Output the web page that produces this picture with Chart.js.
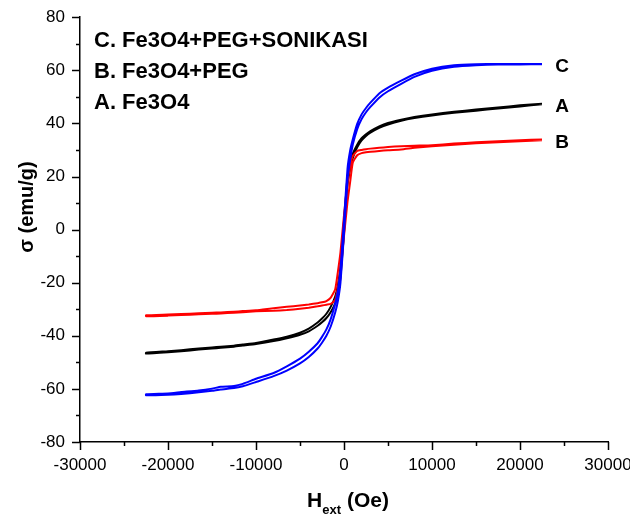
<!DOCTYPE html>
<html>
<head>
<meta charset="utf-8">
<script src="https://cdn.jsdelivr.net/npm/chart.js@4"></script>
<style>
  html, body { margin: 0; padding: 0; background: #fff; }
  #wrap { width: 630px; height: 519px; position: relative; }
</style>
</head>
<body>
<div id="wrap"><canvas id="loop"></canvas></div>
<script>
// Hysteresis loops (VSM) of the three samples

// applied field H_ext (Oe), ascending
const field = [-22500, -20000, -18500, -16500, -15000, -14000, -12500, -11500, -10000, -8000,
  -6500, -5000, -4000, -3000, -2500, -2000, -1500, -1000, -700, -400,
  0, 400, 700, 1000, 1500, 2000, 2500, 3000, 4000, 5000,
  6500, 8000, 10000, 12500, 15000, 17500, 20000, 22500];

// C. Fe3O4+PEG+SONIKASI (blue): descending branch / ascending branch
const cDown = [-62.0, -61.7, -61.2, -60.6, -59.9, -59.2, -58.9, -58.1, -56.2, -54.0,
  -51.5, -48.6, -46.0, -42.8, -40.4, -37.6, -33.6, -27.8, -23.0, -15.0,
  3.5, 23.0, 29.8, 34.0, 39.8, 43.4, 45.8, 47.8, 51.3, 53.5,
  56.1, 58.5, 60.6, 61.9, 62.3, 62.4, 62.4, 62.4];
const cUp = [-62.4, -62.2, -61.9, -61.3, -60.7, -60.2, -59.7, -59.0, -57.4, -55.2,
  -53.1, -50.4, -48.0, -44.8, -42.6, -40.0, -36.4, -31.2, -27.0, -20.0,
  -1.5, 19.0, 26.2, 32.0, 37.8, 41.6, 44.2, 46.2, 49.7, 52.1,
  54.9, 57.5, 59.8, 61.3, 61.9, 62.2, 62.2, 62.3];

// B. Fe3O4+PEG (red)
const bDown = [-32.3, -32.0, -31.8, -31.5, -31.3, -31.2, -30.9, -30.7, -30.4, -29.6,
  -29.1, -28.6, -28.2, -27.7, -27.4, -26.9, -25.6, -22.5, -16.0, -8.5,
  5.5, 17.5, 24.0, 27.7, 29.6, 30.0, 30.3, 30.5, 30.8, 31.1,
  31.4, 31.6, 31.8, 32.4, 32.9, 33.3, 33.7, 33.9];
const bUp = [-32.6, -32.4, -32.2, -31.9, -31.7, -31.6, -31.3, -31.1, -30.8, -30.6,
  -30.3, -29.8, -29.4, -28.9, -28.6, -28.3, -28.0, -26.5, -22.0, -15.5,
  -2.5, 10.5, 18.0, 25.3, 28.0, 28.8, 29.1, 29.3, 29.6, 29.9,
  30.2, 30.8, 31.4, 32.0, 32.5, 32.9, 33.3, 33.7];

// A. Fe3O4 (black)
const aDown = [-46.4, -45.8, -45.4, -44.8, -44.4, -44.1, -43.7, -43.3, -42.7, -41.4,
  -40.3, -38.8, -37.3, -35.0, -33.5, -31.7, -29.0, -25.2, -21.0, -14.0,
  3.0, 20.0, 25.2, 28.6, 32.0, 34.4, 35.9, 37.1, 38.9, 40.2,
  41.4, 42.4, 43.4, 44.4, 45.2, 46.0, 46.8, 47.4];
const aUp = [-46.7, -46.2, -45.8, -45.2, -44.8, -44.5, -44.1, -43.7, -43.1, -42.0,
  -40.9, -39.6, -38.3, -36.2, -34.9, -33.3, -31.0, -27.8, -24.0, -18.0,
  -1.0, 17.0, 22.8, 27.0, 31.0, 33.6, 35.3, 36.5, 38.3, 39.6,
  41.0, 42.0, 43.0, 44.0, 44.8, 45.6, 46.4, 47.2];

const xTickLabels = [-30000, -20000, -10000, 0, 10000, 20000, 30000];
const yTickLabels = [-80, -60, -40, -20, 0, 20, 40, 60, 80];
const legendLines = ["C. Fe3O4+PEG+SONIKASI", "B. Fe3O4+PEG", "A. Fe3O4"];
const endLabels = ["C", "A", "B"];
const endValues = [62.3, 47.3, 33.8];

// closed loop: down branch from +H to -H, then up branch back
function loop(down, up) {
  const pts = [];
  for (let i = field.length - 1; i >= 0; i--) pts.push({ x: field[i], y: down[i] });
  for (let i = 0; i < field.length; i++) pts.push({ x: field[i], y: up[i] });
  return pts;
}

const FONT = "'Liberation Sans', Arial, sans-serif";

const decor = {
  id: "decor",
  afterDraw(chart) {
    const { ctx, chartArea, scales: { x, y } } = chart;
    ctx.save();
    ctx.strokeStyle = "#000";
    ctx.lineWidth = 1.5;
    // tick marks, major long and minor short, outward
    x.ticks.forEach(t => {
      const px = Math.round(x.getPixelForValue(t.value)) + 0.5;
      const len = xTickLabels.includes(t.value) ? 8 : 4;
      ctx.beginPath();
      ctx.moveTo(px, chartArea.bottom);
      ctx.lineTo(px, chartArea.bottom + len);
      ctx.stroke();
    });
    y.ticks.forEach(t => {
      const py = Math.round(y.getPixelForValue(t.value)) + 0.5;
      const len = yTickLabels.includes(t.value) ? 8 : 4;
      ctx.beginPath();
      ctx.moveTo(chartArea.left, py);
      ctx.lineTo(chartArea.left - len, py);
      ctx.stroke();
    });

    ctx.fillStyle = "#000";
    // legend text in upper left
    ctx.font = "bold 22px " + FONT;
    ctx.textAlign = "left";
    ctx.textBaseline = "alphabetic";
    legendLines.forEach((s, i) => ctx.fillText(s, chartArea.left + 14, 47 + i * 31));

    // curve end labels
    ctx.font = "bold 19px " + FONT;
    const ex = x.getPixelForValue(24000);
    endLabels.forEach((s, i) => {
      ctx.fillText(s, ex, y.getPixelForValue(endValues[i]) + 8);
    });

    // y title
    ctx.save();
    ctx.translate(27, 207);
    ctx.rotate(-Math.PI / 2);
    ctx.textAlign = "center";
    ctx.textBaseline = "middle";
    ctx.font = "bold 20px " + FONT;
    ctx.fillText("σ (emu/g)", 0, 0);
    ctx.restore();

    // x title with subscript
    const cx = x.getPixelForValue(0);
    ctx.font = "bold 21px " + FONT;
    const wH = ctx.measureText("H").width;
    const wO = ctx.measureText(" (Oe)").width;
    ctx.font = "bold 13px " + FONT;
    const wE = ctx.measureText("ext").width;
    let sx = cx - (wH + wE + wO) / 2 + 4;
    ctx.font = "bold 21px " + FONT;
    ctx.fillText("H", sx, 507);
    ctx.font = "bold 13px " + FONT;
    ctx.fillText("ext", sx + wH, 514);
    ctx.font = "bold 21px " + FONT;
    ctx.fillText(" (Oe)", sx + wH + wE, 507);
    ctx.restore();
  }
};

new Chart(document.getElementById("loop"), {
  type: "scatter",
  data: {
    datasets: [
      { label: "C", data: loop(cDown, cUp), borderColor: "#0000ff" },
      { label: "B", data: loop(bDown, bUp), borderColor: "#ff0000" },
      { label: "A", data: loop(aDown, aUp), borderColor: "#000000" }
    ]
  },
  options: {
    responsive: true,
    maintainAspectRatio: false,
    animation: false,
    showLine: true,
    layout: { padding: { top: 12, right: 22, left: 0, bottom: 0 } },
    elements: {
      point: { radius: 0 },
      line: { borderWidth: 2, tension: 0.15, fill: false }
    },
    plugins: {
      legend: { display: false },
      tooltip: { enabled: false }
    },
    scales: {
      x: {
        type: "linear",
        min: -30000,
        max: 30000,
        grid: { display: false },
        border: { display: true, color: "#000", width: 1.5 },
        ticks: {
          stepSize: 5000,
          autoSkip: false,
          maxRotation: 0,
          padding: 5,
          color: "#000",
          font: { family: FONT, size: 17 },
          callback: v => xTickLabels.includes(v) ? String(v) : ""
        },
        afterFit(scale) {
          scale.height = 77;
          scale.paddingLeft = 0;
          scale.paddingRight = 0;
        }
      },
      y: {
        min: -80,
        max: 80,
        grid: { display: false },
        border: { display: true, color: "#000", width: 1.5 },
        ticks: {
          stepSize: 10,
          autoSkip: false,
          padding: 7,
          color: "#000",
          font: { family: FONT, size: 17 },
          callback: v => yTickLabels.includes(v) ? String(v) : ""
        },
        afterFit(scale) {
          scale.width = 80;
        }
      }
    }
  },
  plugins: [decor]
});
</script>
</body>
</html>
